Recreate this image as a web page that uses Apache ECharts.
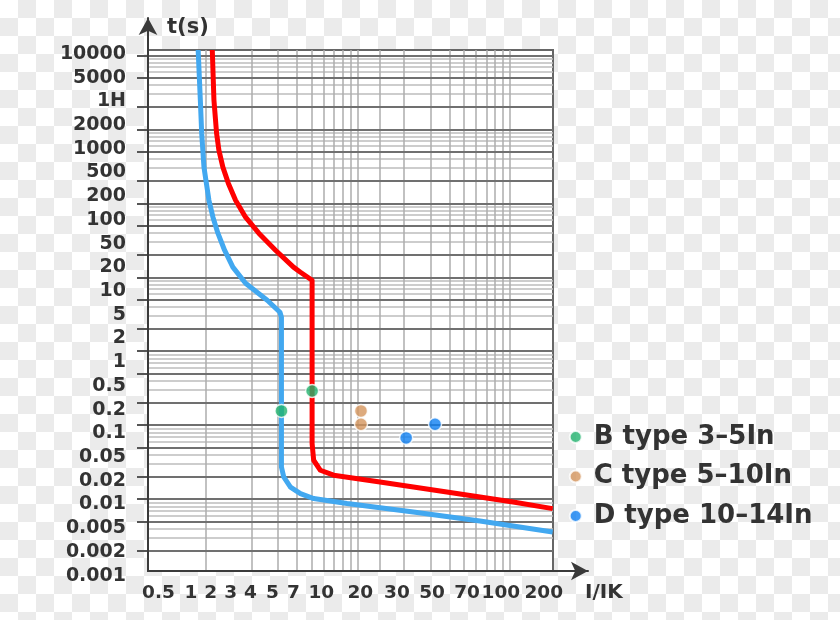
<!DOCTYPE html>
<html><head><meta charset="utf-8">
<script src="https://cdn.jsdelivr.net/npm/echarts@6/dist/echarts.min.js"></script>
<style>
html,body{margin:0;padding:0;}
#c{width:840px;height:620px;background:repeating-conic-gradient(#ebebeb 0 25%, #ffffff 0 50%) 0 0/36px 36px;}
</style></head><body><div id="c"></div>
<script>
// ---- tick labels ----
const yLabels = ['10000','5000','1H','2000','1000','500','200','100','50','20','10','5','2','1','0.5','0.2','0.1','0.05','0.02','0.01','0.005','0.002','0.001'];
const xLabels = ['0.5','1','2','3','4','5','7','10','20','30','50','70','100','200'];
// where each printed x label sits on the I/In scale (labels are set as a loose row, not on their gridlines)
const xLabelAt = [0.49,0.80,1.08,1.46,1.97,2.75,3.77,5.76,10.4,18.1,30.8,52.3,87.3,167];

// ---- grid lines ----
const xGridLines = [1,2,3,4,5,6,7,8,9,10,14,20,30,40,50,60,70,80,90,100];
const yMajorLines = [0.002,0.005,0.01,0.02,0.05,0.1,0.2,0.5,1,2,5,10,20,50,100,200,500,1000,2000,5000,10000];
const yMinorLines = [0.003,0.004,0.006,0.007,0.008,0.009,0.03,0.04,0.06,0.07,0.08,0.09,0.3,0.4,0.6,0.7,0.8,0.9,
  3,4,6,7,8,9,30,40,60,70,80,90,300,400,600,700,800,900,3000,4000,6000,7000,8000,9000];

// ---- curves (I/In, t in s) ----
const blueI = [0.893,0.923,0.942,0.975,1.011,1.051,1.117,1.204,1.332,1.51,1.83,2.54,3.08,3.15,3.15,3.26,3.61,4.20,5.13,8.50,23.2,63.6,191];
const blueT = [11800,2480,887,308,187,110,64.9,39.4,23.2,13.7,8.31,4.89,3.37,2.88,0.0272,0.0200,0.0146,0.0119,0.0102,0.00872,0.00671,0.00507,0.00360];
const redI = [1.106,1.134,1.18,1.222,1.298,1.409,1.573,1.83,2.236,2.88,3.78,4.20,5.01,5.01,5.13,5.68,6.94,14.0,38.5,105,191];
const redT = [11800,2480,887,522,308,187,110,64.9,39.4,23.2,13.7,11.7,9.12,0.0565,0.0336,0.0246,0.0211,0.0171,0.0125,0.00917,0.00746];

// ---- trip points ----
const seriesNames = ['B type 3–5In','C type 5–10In','D type 10–14In'];
const bDotI = [3.15, 5.01],  bDotT = [0.156, 0.290];
const cDotI = [10.5, 10.5],  cDotT = [0.156, 0.103];
const dDotI = [20.8, 32.2],  dDotT = [0.0673, 0.103];

const X0 = 0.418, X1 = 192, Y0 = 0.00107, Y1 = 11800;
const lg = v => Math.log10(v);
const FONT = 'DejaVu Sans';
const TXT = '#333333';
const zip = (a, b) => a.map((v, i) => [v, b[i]]);
const xLabelPos = xLabelAt.map(lg);
const nearestLabel = v => { let b = 0; xLabelPos.forEach((p, i) => { if (Math.abs(p - v) < Math.abs(xLabelPos[b] - v)) b = i; }); return xLabels[b]; };
const off = {show:false};
const hid = {axisLine:{show:false, onZero:false}, axisTick:off, axisLabel:off, splitLine:off};

const chart = echarts.init(document.getElementById('c'), null, {renderer:'canvas'});
chart.setOption({
  animation:false,
  backgroundColor:'transparent',
  grid:[
    {left:148, right:287, top:50, bottom:49, show:true, backgroundColor:'#ffffff', borderColor:'#666666', borderWidth:2, outerBoundsMode:'none', containLabel:false},
    {left:148, right:287, top:54, bottom:44.4, outerBoundsMode:'none', containLabel:false},
    {left:148, right:252, top:18, bottom:49, outerBoundsMode:'none', containLabel:false}
  ],
  xAxis:[
    Object.assign({type:'log', logBase:10, gridIndex:0, position:'bottom', min:X0, max:X1}, hid),
    {type:'value', gridIndex:0, position:'bottom', min:lg(X0), max:lg(X1), axisLine:{show:false, onZero:false}, axisLabel:off,
      axisTick:{show:false, customValues:xGridLines.map(lg)},
      splitLine:{show:true, lineStyle:{color:'#acacac', width:1.5}}},
    {type:'value', gridIndex:1, position:'bottom', min:lg(X0), max:lg(X1), axisLine:{show:false, onZero:false}, axisTick:off, splitLine:off,
      axisLabel:{show:true, customValues:xLabelPos, formatter:nearestLabel, hideOverlap:false, showMinLabel:true, showMaxLabel:true,
        margin:8.5, fontFamily:FONT, fontWeight:'bold', fontSize:18.5, color:TXT}},
    {type:'value', gridIndex:2, position:'bottom', min:0, max:1, z:6,
      axisLine:{show:true, onZero:false, symbol:['none','arrow'], symbolSize:[14,17], lineStyle:{color:'#3a3a3a', width:2}},
      axisTick:off, axisLabel:off, splitLine:off,
      name:'I/IK', nameLocation:'end', nameGap:-3,
      nameTextStyle:{fontFamily:FONT, fontWeight:'bold', fontSize:20, color:TXT, align:'left', verticalAlign:'top', padding:[12,0,0,0]}}
  ],
  yAxis:[
    Object.assign({type:'log', logBase:10, gridIndex:0, position:'left', min:Y0, max:Y1}, hid),
    {type:'value', gridIndex:0, position:'left', min:lg(Y0), max:lg(Y1), axisLine:{show:false, onZero:false}, axisLabel:off,
      axisTick:{show:false, customValues:yMinorLines.map(lg)},
      splitLine:{show:true, lineStyle:{color:'#bdbdbd', width:1.5}}},
    {type:'value', gridIndex:0, position:'left', min:lg(Y0), max:lg(Y1), z:1, axisLine:{show:false, onZero:false}, axisLabel:off,
      axisTick:{show:true, inside:false, length:11, customValues:yMajorLines.map(lg), lineStyle:{color:'#555555', width:2}},
      splitLine:{show:true, lineStyle:{color:'#707070', width:2}}},
    {type:'value', gridIndex:1, position:'left', min:0, max:22, interval:1, axisLine:{show:false, onZero:false}, axisTick:off, splitLine:off,
      axisLabel:{show:true, formatter:v => yLabels[22 - v], hideOverlap:false, showMinLabel:true, showMaxLabel:true,
        margin:22, fontFamily:FONT, fontWeight:'bold', fontSize:19, color:TXT}},
    {type:'value', gridIndex:2, position:'left', min:0, max:1, z:6,
      axisLine:{show:true, onZero:false, symbol:['none','arrow'], symbolSize:[14,17], lineStyle:{color:'#3a3a3a', width:2}},
      axisTick:off, axisLabel:off, splitLine:off,
      name:'t(s)', nameLocation:'end', nameGap:-10,
      nameTextStyle:{fontFamily:FONT, fontWeight:'bold', fontSize:21, color:TXT, align:'left', verticalAlign:'middle', padding:[0,0,0,19]}}
  ],
  legend:{
    data:seriesNames, orient:'vertical', left:568.7, top:423.5, padding:0,
    icon:'circle', itemWidth:26, itemHeight:12, itemGap:12.5,
    textStyle:{fontFamily:FONT, fontWeight:'bold', fontSize:26, color:TXT, lineHeight:27}
  },
  series:[
    {type:'line', name:'B curve', xAxisIndex:0, yAxisIndex:0, data:zip(blueI, blueT), symbol:'none', z:3,
      lineStyle:{color:'#42a8f0', width:5, join:'round'}},
    {type:'line', name:'C curve', xAxisIndex:0, yAxisIndex:0, data:zip(redI, redT), symbol:'none', z:3,
      lineStyle:{color:'#ff0000', width:5, join:'round'}},
    {type:'scatter', name:seriesNames[0], xAxisIndex:0, yAxisIndex:0, data:zip(bDotI, bDotT), symbolSize:13, z:5,
      itemStyle:{color:'#22b36e', borderColor:'#ffffff', borderWidth:1.5}},
    {type:'scatter', name:seriesNames[1], xAxisIndex:0, yAxisIndex:0, data:zip(cDotI, cDotT), symbolSize:13, z:5,
      itemStyle:{color:'#d4955c', borderColor:'#ffffff', borderWidth:1.5}},
    {type:'scatter', name:seriesNames[2], xAxisIndex:0, yAxisIndex:0, data:zip(dDotI, dDotT), symbolSize:13, z:5,
      itemStyle:{color:'#0e80f3', borderColor:'#ffffff', borderWidth:1.5}}
  ]
});
</script></body></html>
